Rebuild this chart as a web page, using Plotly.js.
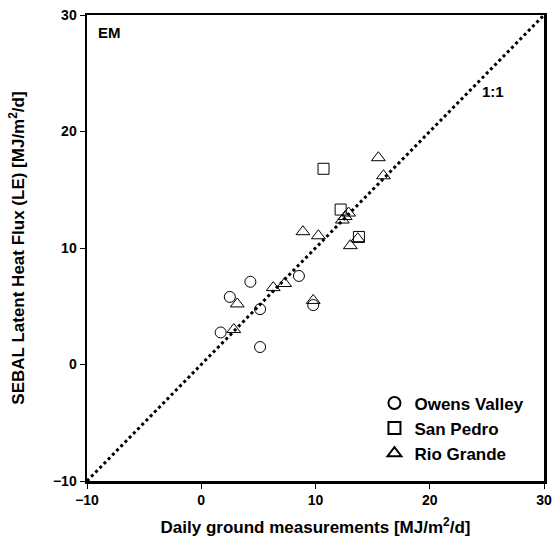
<!DOCTYPE html>
<html><head><meta charset="utf-8">
<script src="https://cdn.plot.ly/plotly-3.0.1.min.js"></script>
<style>body{margin:0;padding:0;background:#fff}#chart{width:557px;height:549px}</style>
</head><body><div id="chart"></div>
<script>
const owensX = [1.7, 2.5, 4.3, 5.15, 5.15, 8.55, 9.8];
const owensY = [2.75, 5.8, 7.1, 4.75, 1.5, 7.6, 5.1];
const sanPedroX = [10.7, 12.2, 13.8];
const sanPedroY = [16.8, 13.3, 10.95];
const rioX = [2.85, 3.15, 6.3, 7.3, 9.8, 8.9, 10.25, 12.35, 12.6, 12.9, 13.05, 13.7, 15.5, 15.95];
const rioY = [3.0, 5.2, 6.6, 6.95, 5.5, 11.4, 11.05, 12.4, 12.7, 13.0, 10.2, 10.8, 17.75, 16.2];
const oneToOneX = [-10, 30];
const oneToOneY = [-10, 30];
const tickVals = [-10, 0, 10, 20, 30];

const F = 'Liberation Sans, Arial, sans-serif';
const mk = (sym, s) => ({symbol: sym, size: s, color: '#000', line: {color: '#000', width: 1}});
const traces = [
  {x: oneToOneX, y: oneToOneY, mode: 'lines', line: {color: '#000', width: 3, dash: 'dot'}, showlegend: false, hoverinfo: 'skip'},
  {x: owensX, y: owensY, mode: 'markers', name: 'Owens Valley', marker: mk('circle-open', 11)},
  {x: sanPedroX, y: sanPedroY, mode: 'markers', name: 'San Pedro', marker: mk('square-open', 11)},
  {x: rioX, y: rioY, mode: 'markers', name: 'Rio Grande', marker: mk('triangle-up-open', 12)}
];
const axisCommon = {
  range: [-10, 30], tickvals: tickVals, ticks: 'outside', ticklen: 5, tickwidth: 1, tickcolor: '#000',
  showgrid: false, zeroline: false, showline: true, linecolor: '#000', linewidth: 2.5, mirror: true,
  tickfont: {family: F, size: 14, color: '#000', weight: 'bold'}
};
const layout = {
  width: 557, height: 549,
  margin: {l: 87, r: 13, t: 15, b: 68},
  paper_bgcolor: '#fff', plot_bgcolor: '#fff',
  xaxis: Object.assign({}, axisCommon, {
    title: {text: 'Daily ground measurements [MJ/m<sup>2</sup>/d]', font: {family: F, size: 17, color: '#000', weight: 'bold'}, standoff: 14}
  }),
  yaxis: Object.assign({}, axisCommon, {
    title: {text: 'SEBAL Latent Heat Flux (LE) [MJ/m<sup>2</sup>/d]', font: {family: F, size: 17, color: '#000', weight: 'bold'}, standoff: 24}
  }),
  legend: {x: 0.629, y: 0.205, xanchor: 'left', yanchor: 'top', bgcolor: 'rgba(0,0,0,0)',
    font: {family: F, size: 17, color: '#000', weight: 'bold'}, itemsizing: 'constant'},
  annotations: [
    {xref: 'paper', yref: 'paper', x: 0.02, y: 0.985, xanchor: 'left', yanchor: 'top', showarrow: false,
     text: 'EM', font: {family: F, size: 15, color: '#000', weight: 'bold'}},
    {xref: 'x', yref: 'y', x: 25.5, y: 23.4, xanchor: 'center', yanchor: 'middle', showarrow: false,
     text: '1:1', font: {family: F, size: 15, color: '#000', weight: 'bold'}}
  ],
  showlegend: true
};
Plotly.newPlot('chart', traces, layout, {displayModeBar: false, staticPlot: true});
</script></body></html>
